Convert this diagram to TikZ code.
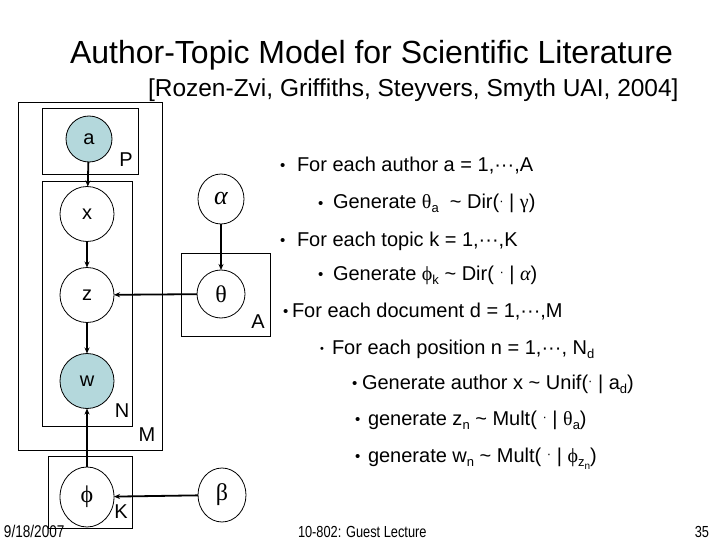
\documentclass[tikz,border=0pt]{standalone}
\usepackage{fontspec}
\setmainfont{Liberation Sans}
\newfontfamily\grk{Liberation Serif}
\newfontfamily\narrowfont[FakeStretch=0.8]{Liberation Sans}
\usetikzlibrary{arrows.meta,shapes.geometric}
\newcommand\gk[1]{{\grk #1}}
\newcommand\lsub[1]{\raisebox{-4pt}{\fontsize{13}{13}\selectfont #1}}
\newcommand\llsub[1]{\raisebox{-3pt}{\fontsize{10}{10}\selectfont #1}}
\newcommand\bul{{\fontsize{15}{15}\selectfont\raisebox{1pt}{•}}}
\newcommand\sbul{{\fontsize{11}{11}\selectfont\raisebox{2pt}{•}}}
\newcommand\cdt{\raisebox{3.5pt}{\fontsize{13}{13}\selectfont·}}
\definecolor{obsfill}{RGB}{180,216,220}
\begin{document}
\begin{tikzpicture}[x=1pt,y=-1pt,
  every node/.style={inner sep=0pt,outer sep=0pt},
  rv/.style={draw,ellipse,line width=0.8pt,font=\fontsize{20}{22}\selectfont},
  obs/.style={rv,fill=obsfill},
  plate/.style={draw,line width=0.8pt},
  arr/.style={line width=1.8pt,-{Stealth[length=6pt,width=5pt]}},
  platelab/.style={font=\fontsize{20}{22}\selectfont},
  txt/.style={anchor=base west,font=\fontsize{20}{24}\selectfont},
  bl/.style={anchor=base west,font=\fontsize{20}{24}\selectfont}]
\useasboundingbox (0,0) rectangle (720,540);
\fill[white] (0,0) rectangle (720,540);

% title
\node[anchor=base west] (title) at (70,64) {\fontsize{32}{38}\selectfont Author-Topic Model for Scientific Literature};
\node[anchor=base west] (subtitle) at (148,97) {\fontsize{24.5}{29}\selectfont [Rozen-Zvi, Griffiths, Steyvers, Smyth UAI, 2004]};

% plates
\draw[plate] (18,102) rectangle (162,450);
\draw[plate] (42,108) rectangle (138,174);
\draw[plate] (42,181) rectangle (132,426);
\draw[plate] (181,253) rectangle (270,336);
\draw[plate] (48,456) rectangle (132,528);
\node[platelab] (labP) at (126,160) {P};
\node[platelab] (labN) at (122,411) {N};
\node[platelab] (labM) at (147,435) {M};
\node[platelab] (labK) at (121,512) {K};
\node[platelab] (labA) at (258,322) {A};

% variables
\node[obs,minimum width=46pt,minimum height=46pt] (a) at (89,139) {a};
\node[rv,minimum width=54pt,minimum height=55pt] (x) at (87,214) {x};
\node[rv,minimum width=54pt,minimum height=55pt] (z) at (87,295) {z};
\node[obs,minimum width=54pt,minimum height=55pt] (w) at (87,381) {w};
\node[rv,minimum width=54pt,minimum height=60pt,font=\fontsize{24}{26}\selectfont] (phi) at (87,497) {\gk{ϕ}};
\node[rv,minimum width=46pt,minimum height=50pt,font=\fontsize{26}{28}\selectfont\grk\itshape] (alpha) at (221,199) {α};
\node[rv,minimum width=48pt,minimum height=48pt,font=\fontsize{24}{26}\selectfont] (theta) at (221,294) {\gk{θ}};
\node[rv,minimum width=48pt,minimum height=54pt,font=\fontsize{24}{26}\selectfont] (beta) at (222,495) {\gk{β}};

% edges
\draw[arr] (a) -- (x);
\draw[arr] (x) -- (z);
\draw[arr] (z) -- (w);
\draw[arr] (alpha) -- (theta);
\draw[arr] (theta) -- (z);
\draw[arr] (phi) -- (w);
\draw[arr] (beta) -- (phi);

% generative process
\node[bl] (b1) at (280,172) {\bul};
\node[txt] (t1) at (297,172) {For each author a = 1,···,A};
\node[bl] (b2) at (318,209) {\bul};
\node[txt] (t2) at (333,209) {Generate \gk{θ}\lsub{a}\ \ \textasciitilde\ Dir(\cdt\ | \gk{γ})};
\node[bl] (b3) at (280,246) {\bul};
\node[txt] (t3) at (297,246) {For each topic k = 1,···,K};
\node[bl] (b4) at (318,280) {\bul};
\node[txt] (t4) at (333,280) {Generate \gk{ϕ}\lsub{k} \textasciitilde\ Dir( \cdt\ | {\grk\itshape α})};
\node[bl] (b5) at (283,317) {\bul};
\node[txt] (t5) at (292,317) {For each document d = 1,···,M};
\node[bl] (b6) at (320,354) {\sbul};
\node[txt] (t6) at (332,354) {For each position n = 1,···, N\lsub{d}};
\node[bl] (b7) at (352,389) {\bul};
\node[txt] (t7) at (362,389) {Generate author x \textasciitilde\ Unif(\cdt\ | a\lsub{d})};
\node[bl] (b8) at (355,425) {\bul};
\node[txt] (t8) at (368,425) {generate z\lsub{n} \textasciitilde\ Mult( \cdt\ | \gk{θ}\lsub{a})};
\node[bl] (b9) at (355,462) {\bul};
\node[txt] (t9) at (368,462) {generate w\lsub{n} \textasciitilde\ Mult( \cdt\ | \gk{ϕ}\lsub{z\llsub{n}})};

% footer
\node[anchor=base west,font=\narrowfont\fontsize{17}{19}\selectfont] (date) at (4,537) {9/18/2007};
\node[anchor=base west,font=\narrowfont\fontsize{16}{19}\selectfont] (lect) at (298,537) {10-802: Guest Lecture};
\node[anchor=base east,font=\narrowfont\fontsize{16}{19}\selectfont] (page) at (709,537) {35};
\end{tikzpicture}
\end{document}
